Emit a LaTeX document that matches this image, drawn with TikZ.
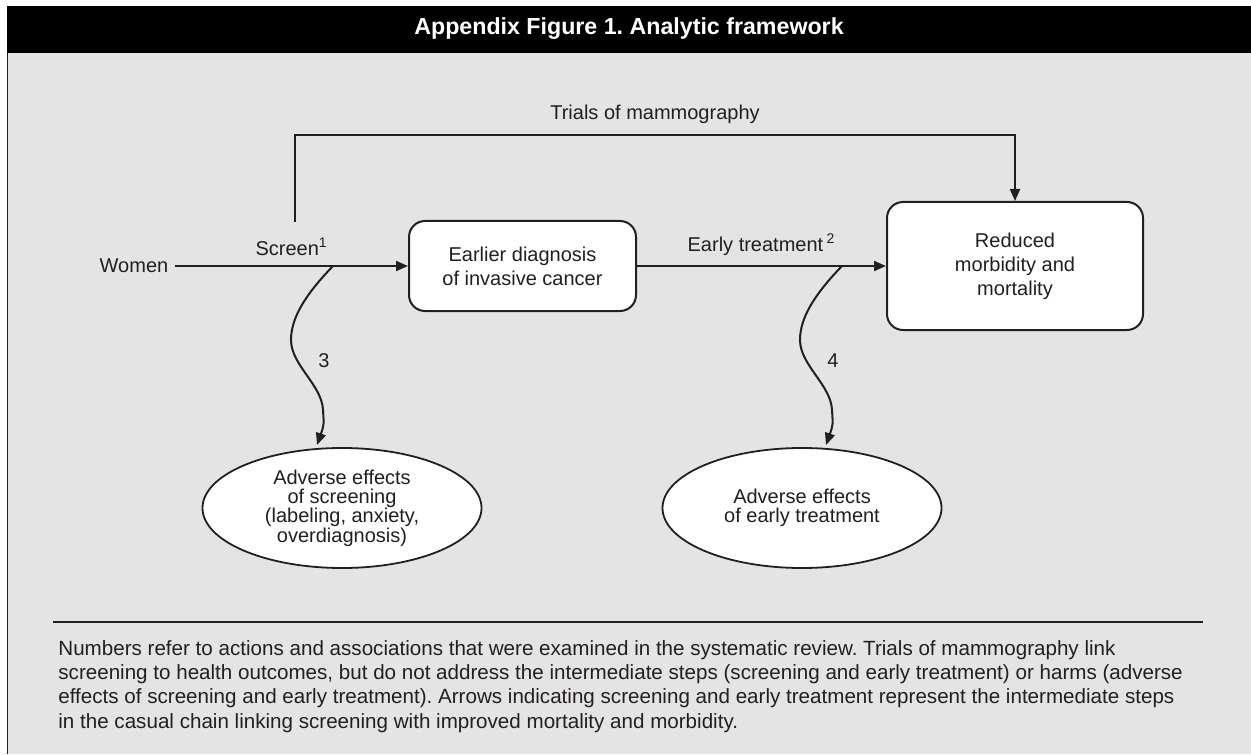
\documentclass[tikz,border=0pt]{standalone}
\usepackage{fontspec}
\setmainfont{Liberation Sans}
\usetikzlibrary{arrows.meta,positioning,calc,shapes.geometric}
\definecolor{panel}{HTML}{E4E4E4}
\definecolor{ink}{HTML}{231F20}
\frenchspacing
\tikzset{
  box/.style={draw=ink,line width=1pt,fill=white,rounded corners=8pt,align=center,
              font=\fontsize{10}{12}\selectfont,text=ink},
  oval/.style={ellipse,draw=ink,line width=.9pt,fill=white,align=center,inner sep=0pt,
               minimum width=139.5pt,minimum height=60pt,
               font=\fontsize{10}{9.7}\selectfont,text=ink},
  ar/.style ={-{Triangle[length=6pt,width=5pt]},line width=1pt,draw=ink},
  lbl/.style={font=\fontsize{10}{12}\selectfont,text=ink},
  hdr/.style={font=\fontsize{11.6}{14}\selectfont\bfseries,text=white},
  note/.style={font=\fontsize{10.3}{12.15}\selectfont,text=ink,align=left,inner sep=0pt},
}

\begin{document}
\begin{tikzpicture}[x=0.5pt,y=-0.5pt]
  \useasboundingbox (0,0) rectangle (1251,754);
  % panel and title bar
  \fill[panel] (7,53) rectangle (1251,754);
  \draw[ink,line width=.8pt] (7.5,53) -- (7.5,754);
  \fill[black] (7,6) rectangle (1251,53);
  \node[hdr] (title) at (629,29) {Appendix Figure 1. Analytic framework};
  % main chain
  \node[lbl] (women) at (134,266) {Women};
  \node[box,minimum width=113.5pt,minimum height=45pt] (diag) at (522.5,266)
       {Earlier diagnosis\\of invasive cancer};
  \node[box,minimum width=128pt,minimum height=64pt] (red) at (1015,266)
       {Reduced\\morbidity and\\mortality};
  \node[oval] (adv1) at (342,508) {Adverse effects\\of screening\\(labeling, anxiety,\\overdiagnosis)};
  \node[oval] (adv2) at (802,508) {Adverse effects\\of early treatment};
  \draw[ar] (women) -- node[lbl,above=1.5pt] (scr) {Screen\textsuperscript{1}} (diag);
  \draw[ar] (diag) -- node[lbl,above=1.5pt] (etr) {Early treatment\,\textsuperscript{2}} (red);
  % trials of mammography
  \coordinate (trs) at (295,222);
  \draw[ar] (trs) -- ++(0,-87) -| node[lbl,pos=.25,above=2pt] (tri) {Trials of mammography} (red);
  % harms
  \coordinate (s3) at (333,266); \coordinate (e3) at (317,445);
  \coordinate (s4) at (842,266); \coordinate (e4) at (826,445);
  \foreach \s/\e/\n in {s3/e3/3,s4/e4/4}{
    \draw[ar] (\s) .. controls ($(\s)+(-28,29)$) and ($(\s)+(-42,52)$) .. ($(\s)+(-42,74)$)
      .. controls ($(\s)+(-42,99)$) and ($(\s)+(-11,119)$) .. ($(\s)+(-10,144)$)
      .. controls ($(\s)+(-9,159)$) .. (\e);
    \node[lbl] (n\n) at ($(\s)+(-9,95)$) {\n};
  }
  % note
  \draw[ink,line width=.8pt] (53,622) -- (1203,622);
  \node[note,anchor=north west] (cap) at (58,640)
    {Numbers refer to actions and associations that were examined in the systematic review. Trials of mammography link\\
     screening to health outcomes, but do not address the intermediate steps (screening and early treatment) or harms (adverse\\
     effects of screening and early treatment). Arrows indicating screening and early treatment represent the intermediate steps\\
     in the casual chain linking screening with improved mortality and morbidity.};
\end{tikzpicture}
\end{document}
